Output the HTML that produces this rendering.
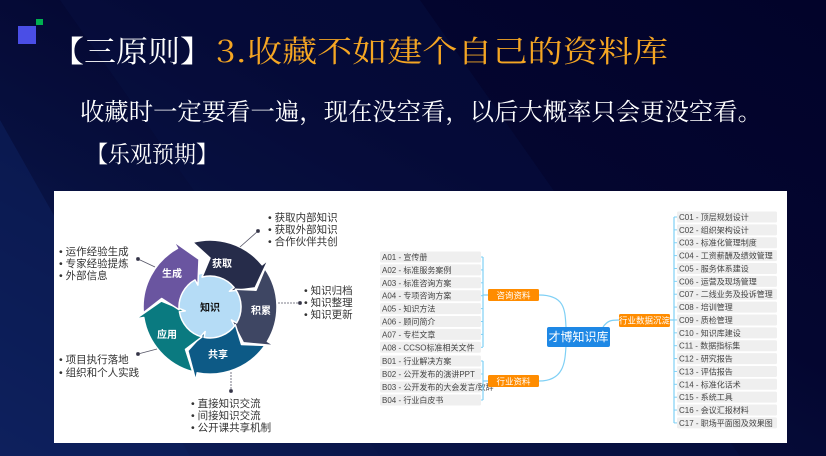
<!DOCTYPE html>
<html><head><meta charset="utf-8"><style>
body{margin:0;width:826px;height:456px;overflow:hidden;background:#03052e;}
svg{display:block}
</style></head><body>
<svg width="826" height="456" xmlns="http://www.w3.org/2000/svg" font-family="Liberation Sans, Noto Sans CJK SC, sans-serif">
<defs>
<linearGradient id="bg" x1="0" y1="1" x2="1" y2="0">
<stop offset="0" stop-color="#0f2260"/><stop offset="0.35" stop-color="#07103f"/><stop offset="0.6" stop-color="#040630"/><stop offset="1" stop-color="#02032a"/>
</linearGradient>
</defs>
<rect width="826" height="456" fill="url(#bg)"/>
<polygon points="0,120 0,456 190,456" fill="#0d1f5c" opacity="0.6"/>
<polygon points="60,0 420,0 740,456 380,456" fill="#0a1448" opacity="0.35"/>
<rect x="18" y="26" width="18" height="18" fill="#4a4ee6"/>
<rect x="36" y="19" width="7" height="6" fill="#00b050"/>
<text x="52" y="62" font-size="30" fill="#ffffff" textLength="160" lengthAdjust="spacingAndGlyphs" font-family="Noto Serif CJK SC, serif">【三原则】</text>
<text x="216" y="62" font-size="30" fill="#f5a623" textLength="452" lengthAdjust="spacingAndGlyphs" font-family="Noto Serif CJK SC, serif">3.收藏不如建个自己的资料库</text>
<text x="80" y="120" font-size="24" fill="#ffffff" textLength="682" lengthAdjust="spacingAndGlyphs" font-family="Noto Serif CJK SC, serif">收藏时一定要看一遍，现在没空看，以后大概率只会更没空看。</text>
<text x="86" y="162" font-size="23" fill="#ffffff" textLength="132" lengthAdjust="spacingAndGlyphs" font-family="Noto Serif CJK SC, serif">【乐观预期】</text>

<rect x="54" y="191" width="733" height="252" fill="#ffffff"/>

<circle cx="210" cy="307" r="34" fill="#b5dcf6"/>
<g id="cyc"></g>
<g font-size="10" font-weight="bold" fill="#fff" text-anchor="middle">
<text x="222" y="267">获取</text><text x="261" y="314">积累</text><text x="218" y="358">共享</text><text x="167" y="338">应用</text><text x="172" y="277">生成</text>
<text x="210" y="311" fill="#111">知识</text>
</g>
<g stroke="#556" stroke-width="0.8" fill="#334">
<line x1="240" y1="247" x2="258" y2="231"/><circle cx="258" cy="231" r="1.6"/>
<line x1="155" y1="267" x2="138" y2="259"/><circle cx="138" cy="259" r="1.6"/>
<line x1="278" y1="303" x2="300" y2="303" stroke-dasharray="2,1"/><circle cx="300" cy="303" r="1.6"/>
<line x1="157" y1="349" x2="138" y2="354"/><circle cx="138" cy="354" r="1.6"/>
<line x1="231" y1="372" x2="231" y2="391" stroke-dasharray="2,1"/><circle cx="231" cy="391" r="1.6"/>
</g>
<g font-size="10.5" fill="#333">
<text x="268" y="221">•  获取内部知识</text><text x="268" y="233">•  获取外部知识</text><text x="268" y="245">•  合作伙伴共创</text>
<text x="59" y="255">•  运作经验生成</text><text x="59" y="267">•  专家经验提炼</text><text x="59" y="279">•  外部信息</text>
<text x="304" y="294">•  知识归档</text><text x="304" y="306">•  知识整理</text><text x="304" y="318">•  知识更新</text>
<text x="59" y="363">•  项目执行落地</text><text x="59" y="376">•  组织和个人实践</text>
<text x="191" y="407">•  直接知识交流</text><text x="191" y="419">•  间接知识交流</text><text x="191" y="431">•  公开课共享机制</text>
</g>

<g id="mm" font-size="8" fill="#444"></g>
<g fill="none" stroke="#7fd0f5" stroke-width="1.2">
<path d="M539,295 C565,295 565,310 566,327"/>
<path d="M539,381 C565,381 565,360 566,346"/>
<path d="M603,327 C608,320 612,320 619,320"/>
<path d="M483,257 L483,347 M483,361 L483,400 M674,217 L674,423"/>
<path d="M483,295 L488,295 M483,381 L488,381 M670,320 L674,320"/>
</g>
<rect x="488" y="289" width="51" height="12" rx="1.5" fill="#ff8c00"/>
<text x="513.5" y="298.5" font-size="8.5" fill="#fff" text-anchor="middle">咨询资料</text>
<rect x="488" y="375" width="51" height="12" rx="1.5" fill="#ff8c00"/>
<text x="513.5" y="384.5" font-size="8.5" fill="#fff" text-anchor="middle">行业资料</text>
<rect x="619" y="314" width="51" height="13" rx="1.5" fill="#ff8c00"/>
<text x="644.5" y="323.5" font-size="8.5" fill="#fff" text-anchor="middle">行业数据沉淀</text>
<rect x="547" y="327" width="63" height="20" rx="2" fill="#1e88e5"/>
<text x="578.5" y="341" font-size="12" fill="#fff" text-anchor="middle">才博知识库</text>
</svg>
<script>
(function(){
var ns="http://www.w3.org/2000/svg",cx=210,cy=307;
function P(r,a){a=a*Math.PI/180;return (cx+r*Math.cos(a)).toFixed(1)+","+(cy+r*Math.sin(a)).toFixed(1);}
var segs=[[-65,"#262c4a"],[5,"#3e4663"],[75,"#0d5a86"],[145,"#0a7a80"],[215,"#6a55a0"]];
var g=document.getElementById("cyc");
var ro=67,ri=31,rm=49;
segs.forEach(function(s){
 var a1=s[0]-40,a2=s[0]+26;
 var d="M"+P(ro,a1)+" A"+ro+","+ro+" 0 0 1 "+P(ro,a2)+" L"+P(ro+8,a2)+" L"+P(rm,a2+16)+" L"+P(ri-6,a2)+" L"+P(ri,a2)+" A"+ri+","+ri+" 0 0 0 "+P(ri,a1)+" L"+P(rm,a1+15)+" Z";
 var p=document.createElementNS(ns,"path");p.setAttribute("d",d);p.setAttribute("fill",s[1]);p.setAttribute("stroke","#fff");p.setAttribute("stroke-width","1.5");p.setAttribute("stroke-linejoin","round");g.appendChild(p);
});
var mm=document.getElementById("mm");
function item(x,y,w,t,lx){
 var r=document.createElementNS(ns,"rect");r.setAttribute("x",x);r.setAttribute("y",y-5.5);r.setAttribute("width",w);r.setAttribute("height",11);r.setAttribute("rx",1.5);r.setAttribute("fill","#efefef");mm.appendChild(r);
 var tx=document.createElementNS(ns,"text");tx.setAttribute("x",x+2);tx.setAttribute("y",y+3);tx.textContent=t;mm.appendChild(tx);
 var l=document.createElementNS(ns,"line");l.setAttribute("x1",lx[0]);l.setAttribute("x2",lx[1]);l.setAttribute("y1",y);l.setAttribute("y2",y);l.setAttribute("stroke","#7fd0f5");l.setAttribute("stroke-width","1");mm.appendChild(l);
}
var A=["A01 - 宣传册","A02 - 标准服务案例","A03 - 标准咨询方案","A04 - 专项咨询方案","A05 - 知识方法","A06 - 顾问简介","A07 - 专栏文章","A08 - CCSO标准相关文件"];
A.forEach(function(t,i){item(380,257+i*12.9,101,t,[481,483]);});
var B=["B01 - 行业解决方案","B02 - 公开发布的演讲PPT","B03 - 公开发布的大会发言/致辞","B04 - 行业白皮书"];
B.forEach(function(t,i){item(380,361+i*13,101,t,[481,483]);});
var C=["C01 - 顶层规划设计","C02 - 组织架构设计","C03 - 标准化管理制度","C04 - 工资薪酬及绩效管理","C05 - 服务体系建设","C06 - 运营及现场管理","C07 - 二线业务及投诉管理","C08 - 培训管理","C09 - 质检管理","C10 - 知识库建设","C11 - 数据指标集","C12 - 研究报告","C13 - 评估报告","C14 - 标准化话术","C15 - 系统工具","C16 - 会议汇报材料","C17 - 职场平面图及效果图"];
C.forEach(function(t,i){item(677,217+i*12.87,100,t,[674,677]);});
})();
</script>
</body></html>
